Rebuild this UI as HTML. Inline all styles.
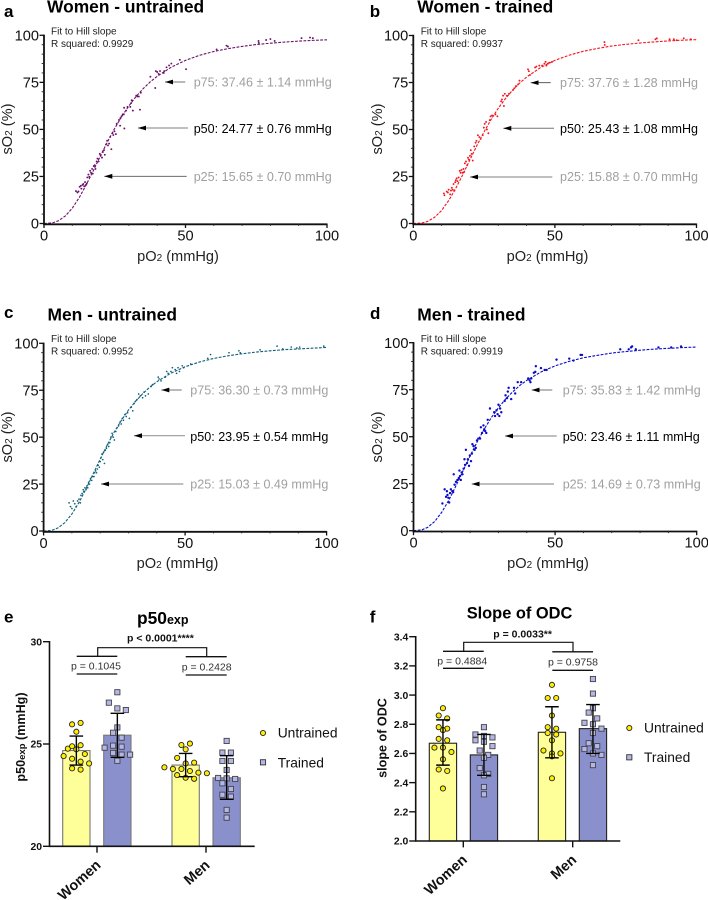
<!DOCTYPE html>
<html lang="en">
<head>
<meta charset="utf-8">
<title>Oxygen dissociation curves</title>
<style>
html,body{margin:0;padding:0;background:#fff;width:708px;height:900px;overflow:hidden}
svg{display:block;font-family:"Liberation Sans",sans-serif;filter:blur(0.3px)}
.title{font-weight:700;font-size:17.4px;fill:#000}
.letter{font-weight:700;font-size:17px;fill:#000}
.fit{font-size:10px;fill:#222}
.ann{font-size:12.55px;fill:#a0a0a0}
.ann.mid{fill:#000}
.tick{font-size:14.6px;fill:#111}
.atitle{font-size:14.6px;fill:#222}
.bold10{font-weight:700;font-size:10.5px;fill:#111}
.ptext{font-size:10.5px;fill:#333}
.ylab{font-weight:700;font-size:12.6px;fill:#111}
.legend{font-size:13.8px;fill:#111}
.cat{font-weight:700;font-size:14.4px;fill:#111}
.axisnum{font-weight:700;font-size:10.4px;fill:#111}
</style>
</head>
<body>
<svg id="figure" xmlns="http://www.w3.org/2000/svg" width="708" height="900" viewBox="0 0 708 900">
  <defs>
    <marker id="ah" markerWidth="8" markerHeight="6" refX="8" refY="3" orient="auto" markerUnits="userSpaceOnUse">
      <path d="M0,0.6 L8,3 L0,5.4 Z" fill="#000"></path>
    </marker>
  </defs>

  <g id="panel-a">
    <text class="letter" x="4" y="17">a</text>
    <text class="title" x="47" y="12.7">Women - untrained</text>
    <text class="fit" x="51" y="34.5">Fit to Hill slope</text>
    <text class="fit" x="51" y="47">R squared: 0.9929</text>
    <text class="ann" x="193.7" y="86.7">p75: 37.46 ± 1.14 mmHg</text>
    <text class="ann mid" x="193.7" y="133">p50: 24.77 ± 0.76 mmHg</text>
    <text class="ann" x="193.7" y="181">p25: 15.65 ± 0.70 mmHg</text>
    <line x1="185.3" y1="82" x2="165" y2="82" stroke="#444" stroke-width="0.8" marker-end="url(#ah)"></line>
    <line x1="188" y1="128" x2="138" y2="128" stroke="#999" stroke-width="1.2" marker-end="url(#ah)"></line>
    <line x1="186.7" y1="176.3" x2="104.3" y2="176.3" stroke="#555" stroke-width="0.8" marker-end="url(#ah)"></line>
    <text class="atitle" x="178" y="261" text-anchor="middle">pO<tspan font-size="10">2</tspan> (mmHg)</text>
    <text class="atitle" transform="translate(12,129) rotate(-90)" text-anchor="middle">sO<tspan font-size="10">2</tspan> (%)</text>
  </g>

  <g id="panel-b">
    <text class="letter" x="369.7" y="17">b</text>
    <text class="title" x="417.3" y="12.7">Women - trained</text>
    <text class="fit" x="420.7" y="34.5">Fit to Hill slope</text>
    <text class="fit" x="420.7" y="47">R squared: 0.9937</text>
    <text class="ann" x="560" y="87">p75: 37.76 ± 1.28 mmHg</text>
    <text class="ann mid" x="560" y="133">p50: 25.43 ± 1.08 mmHg</text>
    <text class="ann" x="560" y="181">p25: 15.88 ± 0.70 mmHg</text>
    <line x1="550.7" y1="82.7" x2="530.7" y2="82.7" stroke="#444" stroke-width="0.8" marker-end="url(#ah)"></line>
    <line x1="554" y1="128.3" x2="503.3" y2="128.3" stroke="#777" stroke-width="1" marker-end="url(#ah)"></line>
    <line x1="552.3" y1="177" x2="470" y2="177" stroke="#555" stroke-width="0.8" marker-end="url(#ah)"></line>
    <text class="atitle" x="547.5" y="261" text-anchor="middle">pO<tspan font-size="10">2</tspan> (mmHg)</text>
    <text class="atitle" transform="translate(382,129) rotate(-90)" text-anchor="middle">sO<tspan font-size="10">2</tspan> (%)</text>
  </g>

  <g id="panel-c">
    <text class="letter" x="4" y="318">c</text>
    <text class="title" x="47.5" y="320.7">Men - untrained</text>
    <text class="fit" x="51" y="342">Fit to Hill slope</text>
    <text class="fit" x="51" y="354.5">R squared: 0.9952</text>
    <text class="ann" x="190.3" y="394.3">p75: 36.30 ± 0.73 mmHg</text>
    <text class="ann mid" x="190.3" y="441">p50: 23.95 ± 0.54 mmHg</text>
    <text class="ann" x="190.3" y="488.7">p25: 15.03 ± 0.49 mmHg</text>
    <line x1="181.7" y1="390" x2="161.3" y2="390" stroke="#444" stroke-width="0.8" marker-end="url(#ah)"></line>
    <line x1="185" y1="435.7" x2="134" y2="435.7" stroke="#999" stroke-width="1.2" marker-end="url(#ah)"></line>
    <line x1="183.3" y1="484" x2="101" y2="484" stroke="#555" stroke-width="0.8" marker-end="url(#ah)"></line>
    <text class="atitle" x="177.5" y="568" text-anchor="middle">pO<tspan font-size="10">2</tspan> (mmHg)</text>
    <text class="atitle" transform="translate(12,437) rotate(-90)" text-anchor="middle">sO<tspan font-size="10">2</tspan> (%)</text>
  </g>

  <g id="panel-d">
    <text class="letter" x="370" y="319">d</text>
    <text class="title" x="417.3" y="320.7">Men - trained</text>
    <text class="fit" x="420.7" y="342">Fit to Hill slope</text>
    <text class="fit" x="420.7" y="354.5">R squared: 0.9919</text>
    <text class="ann" x="562.7" y="394.3">p75: 35.83 ± 1.42 mmHg</text>
    <text class="ann mid" x="562.7" y="441">p50: 23.46 ± 1.11 mmHg</text>
    <text class="ann" x="562.7" y="488.7">p25: 14.69 ± 0.73 mmHg</text>
    <line x1="552.3" y1="390" x2="531.7" y2="390" stroke="#444" stroke-width="0.8" marker-end="url(#ah)"></line>
    <line x1="556.7" y1="436" x2="505" y2="436" stroke="#999" stroke-width="1.2" marker-end="url(#ah)"></line>
    <line x1="554" y1="484" x2="471.7" y2="484" stroke="#555" stroke-width="0.8" marker-end="url(#ah)"></line>
    <text class="atitle" x="548" y="568" text-anchor="middle">pO<tspan font-size="10">2</tspan> (mmHg)</text>
    <text class="atitle" transform="translate(382,437) rotate(-90)" text-anchor="middle">sO<tspan font-size="10">2</tspan> (%)</text>
  </g>

  <g id="panel-e">
    <text class="letter" x="4" y="622.7">e</text>
    <text class="title" x="137" y="624">p50<tspan font-size="12.5">exp</tspan></text>
    <text class="bold10" x="127" y="641.7">p &lt; 0.0001****</text>
    <text class="ptext" x="71" y="669.3">p = 0.1045</text>
    <text class="ptext" x="181.7" y="670.7">p = 0.2428</text>
    <path d="M97.7,656.5 V647.7 H206.7 V656.5" fill="none" stroke="#111" stroke-width="1.2"></path>
    <path d="M76.7,656.3 H117.3 M185.7,656.7 H226.7 M76.7,674 H117.3 M185.7,675 H226.7" fill="none" stroke="#111" stroke-width="1.3"></path>
    <text class="ylab" transform="translate(25,737) rotate(-90)" text-anchor="middle">p50<tspan font-size="9.5">exp</tspan> (mmHg)</text>
    <text class="legend" x="277.7" y="737.7">Untrained</text>
    <text class="legend" x="277.7" y="767.3">Trained</text>
    <circle cx="263" cy="733" r="2.6" fill="#ffee00" stroke="#222" stroke-width="0.9"></circle>
    <rect x="260.4" y="759.7" width="5.2" height="5.2" fill="#b4b6e8" stroke="#333" stroke-width="0.9"></rect>
  </g>

  <g id="panel-f">
    <text class="letter" x="369.7" y="622.7">f</text>
    <text class="title" style="font-size:16.4px" x="466.7" y="618.3">Slope of ODC</text>
    <text class="bold10" x="493.3" y="637.7">p = 0.0033**</text>
    <text class="ptext" x="437.3" y="664.3">p = 0.4884</text>
    <text class="ptext" x="548" y="665.7">p = 0.9758</text>
    <path d="M463.7,651.5 V642.3 H573 V651.8" fill="none" stroke="#111" stroke-width="1.2"></path>
    <path d="M443,651.3 H483.7 M552.3,651.8 H593 M443,668.3 H483.7 M552.3,670.3 H593" fill="none" stroke="#111" stroke-width="1.3"></path>
    <text class="ylab" transform="translate(386.7,738) rotate(-90)" text-anchor="middle">slope of ODC</text>
    <text class="legend" x="644" y="732.7">Untrained</text>
    <text class="legend" x="644" y="762">Trained</text>
    <circle cx="629.3" cy="728" r="2.6" fill="#ffee00" stroke="#222" stroke-width="0.9"></circle>
    <rect x="626.7" y="754.7" width="5.2" height="5.2" fill="#b4b6e8" stroke="#333" stroke-width="0.9"></rect>
  </g>
</svg>

<script>
// ---------- ODC chart data ----------
const yTickLabels = [0, 25, 50, 75, 100];
const xTickLabels = [0, 50, 100];
const yMinorTicks = [5, 10, 15, 20, 30, 35, 40, 45, 55, 60, 65, 70, 80, 85, 90, 95];
const xMinorTicks = [10, 20, 30, 40, 60, 70, 80, 90];

const fitPO2 = [0,3,5,7.5,10,12.5,15,17.5,20,22.5,25,27.5,30,32.5,35,37.5,40,45,50,55,60,65,70,75,80,85,90,95,100];
const fitWomenUntrained = [0,.35,1.38,3.95,8.15,13.9,20.8,28.3,36.1,43.6,50.6,56.9,62.5,67.4,71.6,75.2,78.2,83.1,86.7,89.4,91.4,92.9,94.1,95.1,95.8,96.4,96.9,97.3,97.6];
const fitWomenTrained = [0,.26,1.08,3.25,6.95,12.2,18.7,26.1,33.9,41.6,48.8,55.4,61.3,66.4,70.8,74.6,77.9,83,86.8,89.5,91.6,93.1,94.4,95.3,96,96.6,97.1,97.5,97.8];
const fitMenUntrained = [0,.41,1.57,4.46,9.07,15.2,22.5,30.4,38.3,45.9,52.8,59,64.5,69.1,73.1,76.6,79.5,84.1,87.5,90,91.9,93.3,94.4,95.3,96,96.6,97,97.4,97.8];
const fitMenTrained = [0,.48,1.78,4.93,9.87,16.3,23.9,31.9,39.8,47.3,54.1,60.2,65.4,70,73.8,77.2,80,84.4,87.7,90.1,92,93.3,94.5,95.3,96,96.6,97,97.4,97.7];

const womenUntrainedPoints = [[11.3,17.2],[11.8,16.5],[12.2,17],[12.6,19.5],[13,20],[13.2,18.5],[13.6,20.5],[13.9,21],[14.2,19.8],[14.5,22],[14.8,20.5],[15.1,21.2],[15.3,24.5],[15.7,26],[16,24.8],[16.3,28],[16.6,27],[17,29],[17.2,26.5],[17.6,30.5],[17.9,31],[18.2,29],[18.6,33],[18.9,34.5],[19.3,33],[19.7,37],[20,36],[20.5,35],[20.8,38],[21.2,39],[21.5,36.5],[21.9,42],[22.3,44],[22.6,41.5],[23,42.5],[23.4,46],[23.8,39.5],[24.2,48],[24.5,47],[24.9,49],[25.4,47.5],[25.7,53],[26.5,55],[26.9,52],[27,56],[27.4,57],[27.8,58],[28.2,58],[28.4,50.5],[28.3,61.5],[29,60],[29.5,62],[30.5,62],[30.8,64],[31,65.5],[31.4,60],[32.6,68],[33,67.5],[33.5,67.5],[33.9,60.5],[34.2,69.5],[37.6,78],[39.3,72],[39.5,81],[40,80.5],[40.5,79.5],[41,81],[42.3,80],[42.5,81],[43.3,83],[44.2,84],[45,85],[48,87],[50.2,82],[61,92.5],[64.5,94.5],[65,94],[75.8,97],[75.9,96],[78.5,97.5],[80,98],[81.5,97],[91,98.5],[94,98.8],[95,98.5]];
const womenTrainedPoints = [[10.8,16],[11,15],[11.8,17],[12.2,16.5],[12.5,18],[13,15.5],[13.3,17.5],[13.6,19],[13.9,18],[14.2,21],[14.5,17.5],[14.8,22],[15,23],[15.3,24],[15.6,22.5],[16,24.5],[16.4,28],[16.7,27],[17,28.5],[17.4,27],[17.7,29],[18,27.5],[18.2,32],[18.6,33],[19,31],[19.3,35],[19.6,34],[20,36],[20.3,39],[20.6,37],[21,33.5],[21.5,41],[22,43],[22.3,44],[22.8,47],[23.3,46],[23.8,45],[24.5,47],[24.9,51],[25.2,53],[25.7,54],[26,50],[26.5,48],[27,55],[27.3,57],[27.8,57.5],[29,58],[29.7,57],[31,65],[31.3,66],[31.7,68],[32,62.5],[32.3,69],[33,68],[33.8,69],[35.2,71],[35.7,72],[36.2,73],[37,74],[37.5,76],[40.5,82],[40.8,81],[41.2,79],[43,83],[43.5,83.5],[44.5,84],[45.5,84],[46.3,85],[46.7,86],[47,84],[47.5,85],[48,85.5],[49,86],[67.5,96.5],[67.6,95],[79.5,97.5],[85.5,98],[86,98.5],[90.5,98],[92,98],[93,97.5],[95.5,98.5],[98,98]];
const menUntrainedPoints = [[9,15],[9.5,13],[10,12],[10.5,16],[11,14.5],[11.5,13],[12,16],[12.5,17],[13,15],[13.2,19],[13.6,20],[14,22],[14.2,21],[14.6,23],[15,22],[15.3,24],[15.6,23],[15.9,26],[16.2,25],[16.6,28],[17,27],[17.4,29],[17.8,29],[18,31],[18.4,32],[18.7,31],[19,33],[19.3,35],[19.7,34],[20,37],[20.3,39],[20.6,41],[20.9,38],[21.2,42],[21.5,36],[21.8,43],[22.2,44],[22.6,46],[23,45],[23.4,47],[23.8,50],[24.2,52],[24.6,50],[25,48.5],[25.5,53],[26,55],[26.5,56],[27,58],[27.4,57],[27.8,60],[28.2,59],[28.7,62],[29.2,61],[29.7,63],[30.3,60],[31,66],[31.5,64],[32,68],[32.4,69],[33,70],[33.6,73],[34.2,72],[35,71],[35.5,74],[36,72],[37,73],[38,77],[38.5,78],[40.5,82],[40.8,81],[41.5,80],[43,82],[43.5,85],[44,84],[45,85],[45.5,87],[46.5,86],[47,84],[47.5,87],[48,85],[49,88],[49.5,87],[52,89],[58,92],[59,94],[65.5,95],[69,96],[69.5,95],[76.5,96.5],[82.5,98.5],[84.5,97],[87.5,98],[89.5,97.5],[90.5,98],[99,98.5]];
const menTrainedPoints = [[10.2,14.5],[11,22],[11.5,18],[11.8,21],[12,19],[12.3,17.5],[12.6,15],[12.9,20],[13.2,22],[13.7,21],[14,20.5],[14.2,30],[14.5,24.5],[15,26],[15.5,27],[16,28],[16.2,32],[16.4,29],[16.7,27],[17,31],[17.3,30],[17.7,33],[18,38],[18.2,35],[18.5,43],[18.9,36],[19.2,38],[19.6,34.5],[19.9,40],[20.3,37],[20.6,41],[20.8,46],[21.2,45],[21.6,43],[22,44],[22.4,48],[22.9,49],[23.5,49],[23.8,55],[24.2,52],[24.7,56],[25,54],[25.3,53],[25.7,52],[26.2,59],[27,65],[28.5,63],[28.8,61],[29.3,64],[29.7,62],[30,67],[30.3,61],[30.6,65],[31,63],[32.2,69],[32.5,72],[33,70.5],[33.3,74],[33.6,76],[34.5,70],[35.5,76],[35.9,73],[36.8,79],[38,79],[40.5,81],[41,80],[41.3,79],[41.6,81],[42.5,84],[43,84.5],[43.2,87.5],[45,86.5],[46.3,85.5],[47,85.5],[50.5,91],[55,91.5],[56.5,90.5],[59,93.5],[59.5,93.5],[73,96.5],[76,96.5],[76.8,97.5],[77.2,98],[78.5,96.5],[86.5,97.5],[91,97.5],[94.5,98]];

// ---------- Bar chart data ----------
const barCategories = ['Women', 'Men'];
const p50TickLabels = ['20', '25', '30'];
const slopeTickLabels = ['2.0', '2.2', '2.4', '2.6', '2.8', '3.0', '3.2', '3.4'];

const p50Means = [[24.68, 25.43], [23.97, 23.35]];
const p50ErrLow = [[23.97, 24.35], [23.40, 22.30]];
const p50ErrHigh = [[25.39, 26.50], [24.54, 24.43]];
const p50WomenUntrained = [25.96,26.03,25.6,24.77,24.74,24.89,24.94,24.51,24.41,24.28,24.14,24.05,23.81,23.75];
const p50WomenTrained = [27.53,27.02,26.74,26.66,25.81,25.55,25.31,24.82,24.92,24.87,24.56,24.48,24.48,24.18];
const p50MenUntrained = [24.95,25.02,24.74,24.32,24.05,24.09,23.86,23.78,23.78,23.68,23.6,23.57,23.48,23.35,23.3];
const p50MenTrained = [25.15,24.58,24.58,24.17,24.17,23.73,23.34,23.32,23.29,23.08,22.8,22.52,22.43,21.78,21.4];

const slopeMeans = [[2.67, 2.59], [2.745, 2.77]];
const slopeErrLow = [[2.52, 2.45], [2.57, 2.60]];
const slopeErrHigh = [[2.83, 2.73], [2.92, 2.935]];
const slopeWomenUntrained = [2.91,2.86,2.84,2.78,2.77,2.76,2.70,2.69,2.64,2.64,2.61,2.56,2.49,2.48,2.36];
const slopeWomenTrained = [2.78,2.73,2.72,2.71,2.69,2.68,2.65,2.62,2.59,2.57,2.50,2.46,2.45,2.37,2.32];
const slopeMenUntrained = [3.07,2.98,2.98,2.86,2.78,2.77,2.74,2.73,2.69,2.62,2.60,2.60,2.58,2.43];
const slopeMenTrained = [3.11,3.01,2.91,2.88,2.84,2.81,2.80,2.77,2.74,2.67,2.65,2.63,2.60,2.59,2.52];

// ---------- Helpers ----------
const NS = 'http://www.w3.org/2000/svg';
function make(tag, attrs, parent) {
  const node = document.createElementNS(NS, tag);
  for (const key in attrs) node.setAttribute(key, attrs[key]);
  parent.appendChild(node);
  return node;
}

function drawOdc(groupId, frame, fit, points, color, dotR) {
  const g = document.getElementById(groupId);
  const sx = v => frame.x0 + (frame.x100 - frame.x0) * v / 100;
  const sy = v => frame.y0 + (frame.y100 - frame.y0) * v / 100;

  const d = fitPO2.map((x, i) => (i ? 'L' : 'M') + sx(x).toFixed(2) + ',' + sy(fit[i]).toFixed(2)).join(' ');
  const curve = make('path', {d: d, fill: 'none', stroke: color, 'stroke-width': 1.1, 'stroke-dasharray': '2.8 1.4'}, g);
  
  

  points.forEach(p => {
    const dot = make('circle', {cx: sx(p[0]).toFixed(2), cy: sy(p[1]).toFixed(2), r: dotR, fill: color}, g);
    
    
  });

  const axes = make('path', {d: 'M' + sx(0) + ',' + (sy(100) - 0.7) + ' V' + (sy(0) + 0.8) + ' H' + sx(100), fill: 'none', stroke: '#111', 'stroke-width': 1.8}, g);
  
  

  yTickLabels.forEach(v => {
    const t = make('line', {x1: sx(0) - 4.5, x2: sx(0), y1: sy(v), y2: sy(v), stroke: '#111', 'stroke-width': 1.3}, g);
    
    
    const lab = make('text', {x: sx(0) - 5, y: sy(v) + 5.2, 'text-anchor': 'end', class: 'tick'}, g);
    lab.textContent = v;
    
    
  });
  yMinorTicks.forEach(v => {
    const t = make('line', {x1: sx(0) - 2.4, x2: sx(0), y1: sy(v), y2: sy(v), stroke: '#222', 'stroke-width': 0.9}, g);
    
    
  });
  xTickLabels.forEach(v => {
    const t = make('line', {y1: sy(0), y2: sy(0) + 4.5, x1: sx(v), x2: sx(v), stroke: '#111', 'stroke-width': 1.3}, g);
    
    
    const lab = make('text', {x: sx(v), y: sy(0) + 17, 'text-anchor': 'middle', class: 'tick'}, g);
    lab.textContent = v;
    
    
  });
  xMinorTicks.forEach(v => {
    const t = make('line', {y1: sy(0), y2: sy(0) + 2.4, x1: sx(v), x2: sx(v), stroke: '#222', 'stroke-width': 0.9}, g);
    
    
  });
}

// Groups values into horizontal rows and spreads each row symmetrically around the bar centre.
function swarmOffsets(pixelYs, rowPx, gapPx) {
  const rows = {};
  pixelYs.forEach((py, i) => {
    const key = Math.floor(py / rowPx);
    (rows[key] = rows[key] || []).push(i);
  });
  const out = new Array(pixelYs.length).fill(0);
  Object.values(rows).forEach(row => {
    row.forEach((idx, j) => {
      out[idx] = (j - (row.length - 1) / 2) * gapPx;
    });
  });
  return out;
}

function drawBars(groupId, frame, ticks, means, low, high, series, barStroke, gapPx) {
  const g = document.getElementById(groupId);
  const sy = v => frame.yBottom + (frame.yTop - frame.yBottom) * (v - frame.vMin) / (frame.vMax - frame.vMin);
  const fills = ['#ffff99', '#8a90cc'];

  barCategories.forEach((cat, ci) => {
    [0, 1].forEach(si => {
      const left = frame.barLefts[ci * 2 + si];
      const cx = left + frame.barW / 2;
      const bar = make('rect', {x: left, y: sy(means[ci][si]), width: frame.barW, height: frame.yBottom - sy(means[ci][si]), fill: fills[si], stroke: barStroke, 'stroke-width': 1.1}, g);
      
      

      const vals = series[ci * 2 + si];
      const offs = swarmOffsets(vals.map(sy), frame.rowPx, gapPx);
      vals.forEach((v, i) => {
        if (si === 0) {
          const m = make('circle', {cx: cx + offs[i], cy: sy(v), r: 2.6, fill: '#ffee00', stroke: '#222', 'stroke-width': 0.9}, g);
          
          
        } else {
          const m = make('rect', {x: cx + offs[i] - 2.6, y: sy(v) - 2.6, width: 5.2, height: 5.2, fill: '#b4b6e8', stroke: '#444', 'stroke-width': 0.9}, g);
          
          
        }
      });

      const hi = sy(high[ci][si]);
      const lo = sy(low[ci][si]);
      const err = make('path', {d: 'M' + (cx - 6.8) + ',' + hi + ' H' + (cx + 6.8) + ' M' + cx + ',' + hi + ' V' + lo + ' M' + (cx - 6.8) + ',' + lo + ' H' + (cx + 6.8), fill: 'none', stroke: '#000', 'stroke-width': 1.4}, g);
      
      
    });

    const tickX = frame.catTicks[ci];
    const xt = make('line', {x1: tickX, x2: tickX, y1: frame.yBottom, y2: frame.yBottom + 6.4, stroke: '#111', 'stroke-width': 1.4}, g);
    
    
    const ex = tickX + 4.7;
    const ey = frame.yBottom + 20;
    const lab = make('text', {transform: 'translate(' + ex + ',' + ey + ') rotate(-42)', 'text-anchor': 'end', class: 'cat'}, g);
    lab.textContent = cat;
    
    
  });

  const axes = make('path', {d: 'M' + frame.axisX + ',' + (frame.yTop - 0.7) + ' V' + frame.yBottom + ' H' + frame.axisEnd, fill: 'none', stroke: '#111', 'stroke-width': 1.6}, g);
  
  

  ticks.forEach(label => {
    const v = parseFloat(label);
    const t = make('line', {x1: frame.axisX - 6.5, x2: frame.axisX, y1: sy(v), y2: sy(v), stroke: '#111', 'stroke-width': 1.4}, g);
    
    
    const lab = make('text', {x: frame.axisX - 7.4, y: sy(v) + 3.7, 'text-anchor': 'end', class: 'axisnum'}, g);
    lab.textContent = label;
    
    
  });
}

// ---------- Draw ----------
drawOdc('panel-a', {x0: 44, x100: 327, y0: 223.5, y100: 35.3}, fitWomenUntrained, womenUntrainedPoints, '#6b1069', 0.95);
drawOdc('panel-b', {x0: 413.3, x100: 696.5, y0: 223.5, y100: 35.5}, fitWomenTrained, womenTrainedPoints, '#f5141e', 0.95);
drawOdc('panel-c', {x0: 43.6, x100: 326.6, y0: 531, y100: 343.3}, fitMenUntrained, menUntrainedPoints, '#0f5f78', 0.85);
drawOdc('panel-d', {x0: 413.5, x100: 696.7, y0: 530.7, y100: 342.7}, fitMenTrained, menTrainedPoints, '#0b0bc8', 1.2);

drawBars('panel-e', {
  axisX: 49.5, axisEnd: 254.7, yTop: 641.7, yBottom: 846.3, vMin: 20, vMax: 30,
  barLefts: [62.7, 103.7, 172, 213], barW: 27.3, catTicks: [97, 206], rowPx: 9
}, p50TickLabels, p50Means, p50ErrLow, p50ErrHigh,
[p50WomenUntrained, p50WomenTrained, p50MenUntrained, p50MenTrained], '#777', 8.5);

drawBars('panel-f', {
  axisX: 415.7, axisEnd: 620.3, yTop: 636.7, yBottom: 841, vMin: 2.0, vMax: 3.4,
  barLefts: [429.3, 470.3, 538.3, 579.3], barW: 27.3, catTicks: [463.3, 572.7], rowPx: 9
}, slopeTickLabels, slopeMeans, slopeErrLow, slopeErrHigh,
[slopeWomenUntrained, slopeWomenTrained, slopeMenUntrained, slopeMenTrained], '#222', 8.5);
</script>
</body>
</html>
